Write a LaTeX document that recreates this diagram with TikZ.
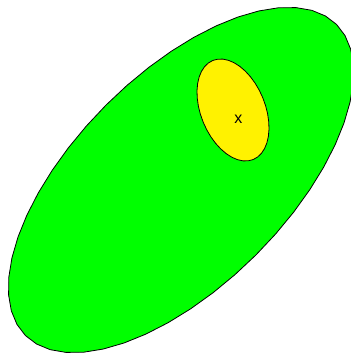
\documentclass[tikz,border=0pt]{standalone}
\usepackage{fontspec}
\setsansfont{Liberation Sans}

\begin{document}
\begin{tikzpicture}[x=1pt,y=1pt,line join=round,
    region/.style={draw=black,line width=.8pt}]
    \useasboundingbox (0,0) rectangle (351,360);
    \clip (0,0) rectangle (351,360);
    % outer and inner ellipse, drawn as polygons
    \filldraw[region,fill=green,shift={(181,180)},rotate=45]
        plot[domain=0:360,samples=49] ({220*cos(\x)},{106*sin(\x)}) -- cycle;
    \filldraw[region,fill=yellow,shift={(233,250)},rotate=112.2]
        plot[domain=0:360,samples=41] ({53.5*cos(\x)},{32.2*sin(\x)}) -- cycle;
    \node[font=\sffamily\fontsize{16}{16}\selectfont,inner sep=0pt] (xmark) at (238.3,240.3) {x};
\end{tikzpicture}
\end{document}
